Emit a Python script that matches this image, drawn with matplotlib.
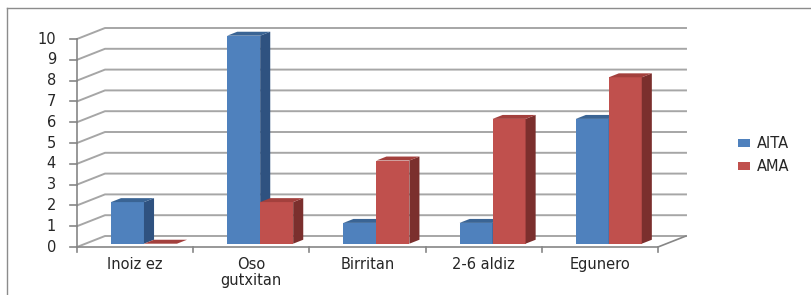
import matplotlib.pyplot as plt
from matplotlib.patches import Polygon, Patch
from matplotlib.lines import Line2D

categories = ["Inoiz ez", "Oso\ngutxitan", "Birritan", "2-6 aldiz", "Egunero"]
aita = [2, 10, 1, 1, 6]
ama = [0, 2, 4, 6, 8]
yticks = list(range(0, 11))

# pixel geometry of the front axis (Excel-like 3D look)
X0, PX_X = 77, 116.2      # px of x=0, px per category
Y0, PX_Y = 247, 20.8      # px of y=0, px per unit
DX, DY = 28 / PX_X, 11 / PX_Y   # full depth offset in data units
D0, D1 = 0.30, 0.66            # bar depth span (fraction of floor depth)
BW = 0.284

blue = ("#4F81BD", "#3A6494", "#2F5280")
red = ("#C0504D", "#A3403D", "#7B2F2D")
grid_c = "#A6A6A6"
axis_c = "#868686"
txt_c = "#262626"

fig = plt.figure(figsize=(8.12, 2.95), dpi=100)
ax = fig.add_axes([0, 0, 1, 1])
ax.set_xlim((0 - X0) / PX_X, (812 - X0) / PX_X)
ax.set_ylim((Y0 - 295) / PX_Y, Y0 / PX_Y)
ax.axis("off")

n = len(categories)

# walls: left wall slants + back wall gridlines
for k in yticks:
    ax.plot([0, DX, n + DX], [k, k + DY, k + DY], color=grid_c, lw=1.4, zorder=1)

# floor and axes
ax.plot([0, n, n + DX], [0, 0, DY], color=axis_c, lw=1.2, zorder=2)
ax.plot([0, 0], [0, 10], color=axis_c, lw=1.2, zorder=2)
for k in yticks:
    ax.plot([-7 / PX_X, 0], [k, k], color=axis_c, lw=1.2, zorder=2)
    ax.text(-21 / PX_X, k, str(k), ha="right", va="center", fontsize=10.5, color=txt_c)
for j in range(n + 1):
    ax.plot([j, j], [0, -5 / PX_Y], color=axis_c, lw=1.2, zorder=2)
for i, c in enumerate(categories):
    ax.text(i + 0.5, -10 / PX_Y, c, ha="center", va="top", fontsize=10.5,
            color=txt_c, linespacing=1.1)

ox0, oy0 = D0 * DX, D0 * DY
ox1, oy1 = D1 * DX, D1 * DY


def bar3d(x, h, cols, z):
    ax.bar(x + ox0, h, width=BW, bottom=oy0, align="edge", color=cols[0], zorder=z)
    xl, xr = x + ox0, x + ox0 + BW
    top = h + oy0
    ax.add_patch(Polygon([(xr, oy0), (x + ox1 + BW, oy1), (x + ox1 + BW, h + oy1), (xr, top)],
                         closed=True, facecolor=cols[2], edgecolor="none", zorder=z))
    ax.add_patch(Polygon([(xl, top), (xr, top), (x + ox1 + BW, h + oy1), (x + ox1, h + oy1)],
                         closed=True, facecolor=cols[1], edgecolor="none", zorder=z))


z = 3
for i in range(n):
    bar3d(i + 0.22, aita[i], blue, z)
    bar3d(i + 0.22 + BW, ama[i], red, z + 1)
    z += 2

handles = [Patch(facecolor=blue[0]), Patch(facecolor=red[0])]
fig.legend(handles, ["AITA", "AMA"], loc="center left", bbox_to_anchor=(0.893, 0.475),
           frameon=False, fontsize=10.5, handlelength=0.8, handleheight=0.45,
           handletextpad=0.5, labelspacing=0.55, labelcolor=txt_c)

# chart frame
fig.add_artist(Line2D([7 / 812, 1], [1 - 8 / 295, 1 - 8 / 295], color="#8C8C8C", lw=1))
fig.add_artist(Line2D([7 / 812, 7 / 812], [0, 1 - 8 / 295], color="#8C8C8C", lw=1))

fig.savefig("out.png", dpi=100)
